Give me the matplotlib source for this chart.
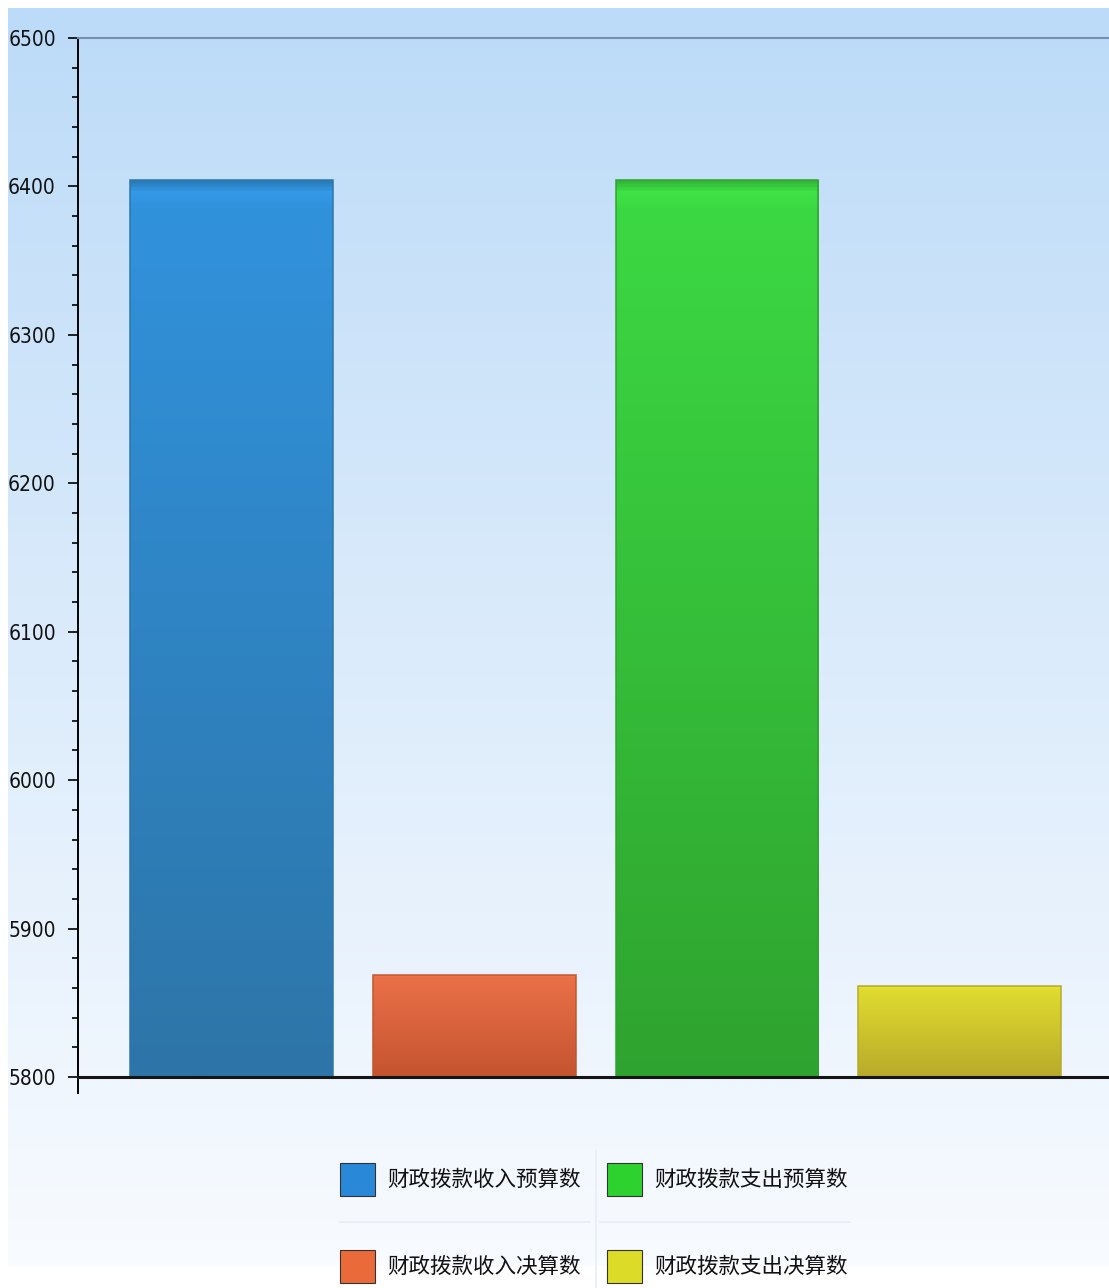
import numpy as np
import matplotlib.pyplot as plt
from matplotlib.colors import LinearSegmentedColormap, to_rgb
from matplotlib.patches import Rectangle
from matplotlib.ticker import MultipleLocator

plt.rcParams['font.family'] = ['Noto Sans CJK SC', 'DejaVu Sans']

# 财政拨款收支 (budget vs. final account)
labels = ['财政拨款收入预算数', '财政拨款收入决算数', '财政拨款支出预算数', '财政拨款支出决算数']
values = [6404, 5869, 6404, 5861]
top_colors = ['#3192dc', '#ea7048', '#3cd843', '#e0dc30']
bottom_colors = ['#2d75a8', '#c4542e', '#2fa32f', '#b8aa2a']
legend_colors = ['#2a88d8', '#ea6a3a', '#2ed22e', '#dcdc28']
y_min, y_max = 5800, 6500

W, H = 1109, 1288
fig = plt.figure(figsize=(W / 100, H / 100), dpi=100, facecolor='white')

# gradient backdrop
bg = fig.add_axes([8 / W, 22 / H, 1 - 8 / W, 1 - 30 / H])
bg_cmap = LinearSegmentedColormap.from_list(
    'bg', [(0, '#bcdbf8'), (0.5, '#dbebfb'), (1, '#f8fbff')])
bg.imshow(np.linspace(0, 1, 256).reshape(-1, 1), aspect='auto', cmap=bg_cmap,
          extent=[0, 1, 0, 1], origin='upper')
bg.axis('off')

ax = fig.add_axes([78 / W, (H - 1077) / H, (W - 78) / W, (1077 - 38) / H])
ax.patch.set_alpha(0)

x = np.arange(len(values))
bars = ax.bar(x, [v - y_min for v in values], bottom=y_min, width=0.835,
              color=top_colors, edgecolor='none', zorder=2)

# vertical shading on every bar, clipped to the bar outline
for bar, c1, c2 in zip(bars, top_colors, bottom_colors):
    cmap = LinearSegmentedColormap.from_list(
        'b', [(0, tuple(v * 0.85 for v in to_rgb(c1))),
              (0.012, tuple(min(1, v * 1.05) for v in to_rgb(c1))),
              (0.03, to_rgb(c1)), (1, to_rgb(c2))])
    bx, by = bar.get_x(), bar.get_y()
    bw, bh = bar.get_width(), bar.get_height()
    im = ax.imshow(np.linspace(0, 1, 512).reshape(-1, 1), aspect='auto', cmap=cmap,
                   extent=[bx, bx + bw, by, by + bh], origin='upper', zorder=3)
    im.set_clip_path(bar)
    ax.add_patch(Rectangle((bx, by), bw, bh, fill=False, lw=1.2,
                           edgecolor=to_rgb(c2) + (0.9,), zorder=4))

ax.set_xlim(-0.632, 3.615)
ax.set_ylim(y_min, y_max)
ax.set_xticks([])
ax.yaxis.set_major_locator(MultipleLocator(100))
ax.yaxis.set_minor_locator(MultipleLocator(20))
ax.tick_params(axis='y', which='major', direction='out', length=7, width=1.2,
               color='black', labelsize=15, pad=9)
ax.tick_params(axis='y', which='minor', direction='out', length=4, width=1.2,
               color='black')
for t in ax.get_yticklabels():
    t.set_family('DejaVu Sans')
    t.set_stretch('condensed')
    t.set_color('#111111')

ax.spines['right'].set_visible(False)
ax.spines['top'].set_color('#6f93b5')
ax.spines['top'].set_linewidth(1.5)
ax.spines['bottom'].set_linewidth(2.2)
ax.spines['bottom'].set_color('#151515')
ax.spines['bottom'].set_zorder(5)
ax.spines['left'].set_linewidth(1.4)
ax.spines['left'].set_bounds(5789, 6500)

# legend drawn as a 2x2 grid in figure pixels
order = [0, 2, 1, 3]
col_x = [340, 607]
row_y = [1180, 1267]
for k, idx in enumerate(order):
    px = col_x[k % 2]
    py = row_y[k // 2]
    fig.patches.append(Rectangle((px / W, (H - py - 16) / H), 35 / W, 33 / H,
                                 transform=fig.transFigure, facecolor=legend_colors[idx],
                                 edgecolor='#333333', lw=0.8))
    fig.text((px + 47) / W, (H - py) / H, labels[idx], fontsize=15.5,
             va='center', ha='left', color='#111111')

for x0, x1 in [(340, 590), (600, 850)]:
    fig.add_artist(plt.Line2D([x0 / W, x1 / W], [(H - 1222) / H] * 2,
                              color='#e6eef6', lw=1.2))
fig.add_artist(plt.Line2D([596 / W] * 2, [(H - 1150) / H, 0], color='#e6eef6', lw=1.2))

fig.savefig('out.png', dpi=100, facecolor='white')
